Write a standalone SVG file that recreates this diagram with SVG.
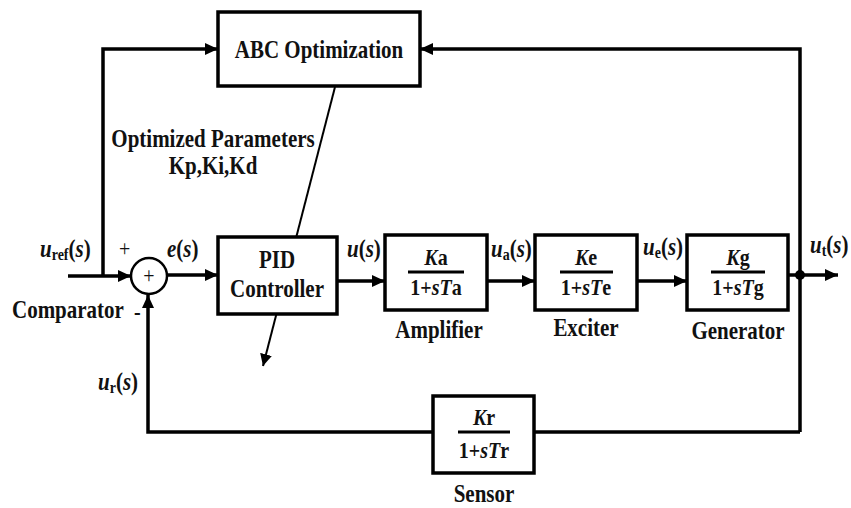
<svg xmlns="http://www.w3.org/2000/svg" width="851" height="508" viewBox="0 0 851 508">
<defs>
<marker id="arr" markerUnits="userSpaceOnUse" markerWidth="13" markerHeight="12" refX="13" refY="6" orient="auto">
<path d="M0,0 L13,6 L0,12 z" fill="#000"/>
</marker>
<marker id="arr2" markerUnits="userSpaceOnUse" markerWidth="12" markerHeight="12" refX="12" refY="6" orient="auto">
<path d="M0,0 L12,6 L0,12 z" fill="#000"/>
</marker>
<style>
.box{fill:#fff;stroke:#000;stroke-width:3.5}
.ln{fill:none;stroke:#000;stroke-width:3.5}
text{font-family:'Liberation Serif','DejaVu Serif','Times New Roman',serif;font-weight:bold;fill:#111}
.t{font-size:21px}
.f{font-size:20px;text-anchor:middle}
.m{font-size:21px}
.i{font-style:italic}
.sub{font-size:14px;font-style:normal}
.mid{text-anchor:middle}
</style>
</defs>
<rect width="851" height="508" fill="#fff"/>
<g id="connectors">
<line x1="335" y1="87" x2="263" y2="366" stroke="#000" stroke-width="2" marker-end="url(#arr2)"/>
<polyline class="ln" points="68,276 131,276" marker-end="url(#arr)"/>
<polyline class="ln" points="103,276 103,49 218,49" marker-end="url(#arr)"/>
<polyline class="ln" points="167,275 218,275" marker-end="url(#arr)"/>
<polyline class="ln" points="337,281 385,281" marker-end="url(#arr)"/>
<polyline class="ln" points="487,281 535,281" marker-end="url(#arr)"/>
<polyline class="ln" points="637,281 687,281" marker-end="url(#arr)"/>
<polyline class="ln" points="788,275 838,275" marker-end="url(#arr)"/>
<polyline class="ln" points="800,432 800,49 420,49" marker-end="url(#arr)"/>
<polyline class="ln" points="800,432 534,432"/>
<polyline class="ln" points="433,432 148,432 148,295" marker-end="url(#arr)"/>
<circle cx="800" cy="275" r="5" fill="#000"/>
</g>
<g id="abc">
<rect class="box" x="218" y="12" width="202" height="74"/>
<text class="t mid" transform="translate(319,58) scale(1,1.15)">ABC Optimization</text>
</g>
<g id="params">
<text class="t mid" transform="translate(213,147) scale(1,1.15)">Optimized Parameters</text>
<text class="t mid" transform="translate(213,174) scale(1,1.15)">Kp,Ki,Kd</text>
</g>
<g id="comparator">
<circle cx="149" cy="276" r="18" fill="#fff" stroke="#000" stroke-width="2.5"/>
<text class="f" style="font-weight:normal" transform="translate(149,283) scale(1,1.15)">+</text>
<text class="t" style="font-weight:normal;font-size:20px" transform="translate(119,256) scale(1,1.15)">+</text>
<text class="t" style="font-size:20px" transform="translate(134,320) scale(1,1.15)">-</text>
<text class="t" transform="translate(12,318) scale(1,1.15)">Comparator</text>
</g>
<g id="pid">
<rect class="box" x="218" y="237" width="119" height="77"/>
<text class="t mid" transform="translate(277,268) scale(1,1.15)">PID</text>
<text class="t mid" transform="translate(277,297) scale(1,1.15)">Controller</text>
</g>
<g id="amplifier">
<rect class="box" x="385" y="235" width="102" height="75"/>
<text class="f" transform="translate(436,265) scale(1,1.15)"><tspan class="i">K</tspan>a</text>
<line x1="408" y1="272" x2="464" y2="272" stroke="#000" stroke-width="3"/>
<text class="f" transform="translate(436,295) scale(1,1.15)">1+<tspan class="i">sT</tspan>a</text>
<text class="t mid" transform="translate(439,338) scale(1,1.15)">Amplifier</text>
</g>
<g id="exciter">
<rect class="box" x="535" y="235" width="102" height="75"/>
<text class="f" transform="translate(586,265) scale(1,1.15)"><tspan class="i">K</tspan>e</text>
<line x1="560" y1="272" x2="613" y2="272" stroke="#000" stroke-width="3"/>
<text class="f" transform="translate(586,295) scale(1,1.15)">1+<tspan class="i">sT</tspan>e</text>
<text class="t mid" transform="translate(586,336) scale(1,1.15)">Exciter</text>
</g>
<g id="generator">
<rect class="box" x="687" y="235" width="101" height="75"/>
<text class="f" transform="translate(738,265) scale(1,1.15)"><tspan class="i">K</tspan>g</text>
<line x1="711" y1="272" x2="765" y2="272" stroke="#000" stroke-width="3"/>
<text class="f" transform="translate(738,295) scale(1,1.15)">1+<tspan class="i">sT</tspan>g</text>
<text class="t mid" transform="translate(738,339) scale(1,1.15)">Generator</text>
</g>
<g id="sensor">
<rect class="box" x="433" y="396" width="101" height="77"/>
<text class="f" transform="translate(484,425) scale(1,1.15)"><tspan class="i">K</tspan>r</text>
<line x1="458" y1="432" x2="510" y2="432" stroke="#000" stroke-width="3"/>
<text class="f" transform="translate(484,458) scale(1,1.15)">1+<tspan class="i">sT</tspan>r</text>
<text class="t mid" transform="translate(484,502) scale(1,1.15)">Sensor</text>
</g>
<g id="labels">
<text class="m" transform="translate(40,257) scale(1,1.15)"><tspan class="i">u</tspan><tspan class="sub" dy="3">ref</tspan><tspan dy="-3">(</tspan><tspan class="i">s</tspan>)</text>
<text class="m" transform="translate(167,257) scale(1,1.15)"><tspan class="i">e</tspan>(<tspan class="i">s</tspan>)</text>
<text class="m" transform="translate(347,257) scale(1,1.15)"><tspan class="i">u</tspan>(<tspan class="i">s</tspan>)</text>
<text class="m" transform="translate(491,257) scale(1,1.15)"><tspan class="i">u</tspan><tspan class="sub" dy="3">a</tspan><tspan dy="-3">(</tspan><tspan class="i">s</tspan>)</text>
<text class="m" transform="translate(643,255) scale(1,1.15)"><tspan class="i">u</tspan><tspan class="sub" dy="3">e</tspan><tspan dy="-3">(</tspan><tspan class="i">s</tspan>)</text>
<text class="m" transform="translate(810,253) scale(1,1.15)"><tspan class="i">u</tspan><tspan class="sub" dy="3">t</tspan><tspan dy="-3">(</tspan><tspan class="i">s</tspan>)</text>
<text class="m" transform="translate(98,390) scale(1,1.15)"><tspan class="i">u</tspan><tspan class="sub" dy="3">r</tspan><tspan dy="-3">(</tspan><tspan class="i">s</tspan>)</text>
</g>
</svg>
